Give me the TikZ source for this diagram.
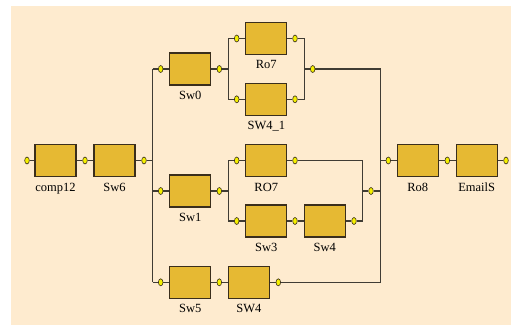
\documentclass[tikz,border=0pt]{standalone}
\usepackage{fontspec}
\setmainfont{Liberation Serif}
\usetikzlibrary{positioning,shapes.geometric}
\definecolor{paper}{RGB}{254,235,207}
\definecolor{gold}{RGB}{230,185,51}
\definecolor{edge}{RGB}{58,46,28}
\definecolor{wirecol}{RGB}{64,60,52}
\definecolor{pinfill}{RGB}{245,240,0}

\begin{document}
\begin{tikzpicture}[
    x=1pt,y=-1pt,
    node distance=5.5pt,
    blk/.style={
      draw=edge,
      fill=gold,
      line width=1.1pt,
      minimum width=41pt,
      minimum height=32pt,
      inner sep=0pt
    },
    portdot/.style={ellipse,draw=edge,fill=pinfill,line width=0.6pt,
      minimum width=4.6pt,minimum height=7pt,inner sep=0pt},
    lbl/.style={inner sep=0pt,font=\fontsize{12.5}{13}\selectfont},
    wire/.style={draw=wirecol,line width=1.2pt}
  ]
    \useasboundingbox (0,0) rectangle (511,325);
    \fill[paper] (11,6) rectangle (511,325);

    % blocks
    \node[blk] (c12) at (55.5,160.5) {};
    \node[blk] (s6) at (114.5,160.5) {};
    \node[blk] (s0) at (190.3,69) {};
    \node[blk] (r7) at (266.3,38.5) {};
    \node[blk] (w41) at (266.3,99.3) {};
    \node[blk] (s1) at (190.3,191) {};
    \node[blk] (ro7) at (266.3,160.5) {};
    \node[blk] (s3) at (266.3,221) {};
    \node[blk] (s4) at (324.7,221) {};
    \node[blk] (s5) at (190.3,282.3) {};
    \node[blk] (sw4) at (248.8,282.3) {};
    \node[blk] (r8) at (417.8,160.5) {};
    \node[blk] (em) at (476.7,160.5) {};

    \node[lbl,below=of c12] (c12t) {comp12};
    \node[lbl,below=of s6] (s6t) {Sw6};
    \node[lbl,below=of s0] (s0t) {Sw0};
    \node[lbl,below=of r7] (r7t) {Ro7};
    \node[lbl,below=of w41] (w41t) {SW4\_1};
    \node[lbl,below=of s1] (s1t) {Sw1};
    \node[lbl,below=of ro7] (ro7t) {RO7};
    \node[lbl,below=of s3] (s3t) {Sw3};
    \node[lbl,below=of s4] (s4t) {Sw4};
    \node[lbl,below=of s5] (s5t) {Sw5};
    \node[lbl,below=of sw4] (sw4t) {SW4};
    \node[lbl,below=of r8] (r8t) {Ro8};
    \node[lbl,below=of em] (emt) {EmailS};

    % ports
    \node[portdot] (p0) at (27,160.5) {};
    \node[portdot] (p1) at (85,160.5) {};
    \node[portdot] (p6) at (144,160.5) {};
    \node[portdot] (s0i) at (160.7,69) {};
    \node[portdot] (s0o) at (219.3,69) {};
    \node[portdot] (r7i) at (236.7,38.5) {};
    \node[portdot] (r7o) at (295,38.5) {};
    \node[portdot] (w4i) at (236.7,99.3) {};
    \node[portdot] (w4o) at (295,99.3) {};
    \node[portdot] (tout) at (312.7,69) {};
    \node[portdot] (s1i) at (160.7,191) {};
    \node[portdot] (s1o) at (219.3,191) {};
    \node[portdot] (ro7i) at (236.7,160.5) {};
    \node[portdot] (ro7o) at (295,160.5) {};
    \node[portdot] (s3i) at (236.7,221) {};
    \node[portdot] (s3o) at (295,221) {};
    \node[portdot] (s4o) at (354,221) {};
    \node[portdot] (mout) at (371,191) {};
    \node[portdot] (s5i) at (160.7,282.3) {};
    \node[portdot] (s5o) at (219.3,282.3) {};
    \node[portdot] (sw4o) at (278.3,282.3) {};
    \node[portdot] (r8i) at (388.3,160.5) {};
    \node[portdot] (r8o) at (447.3,160.5) {};
    \node[portdot] (emo) at (506,160.5) {};

    % bus corners
    \coordinate (lbTop) at (152.7,69);
    \coordinate (lbBot) at (152.7,282.3);
    \coordinate (ibA) at (228.3,99.3);
    \coordinate (obA) at (304.3,99.3);
    \coordinate (ibB) at (228.3,221);
    \coordinate (obB) at (362.7,221);
    \coordinate (mbBot) at (380.7,282.3);

    % wires
    \draw[wire] (p0) -- (c12) -- (p1) -- (s6) -- (p6) -- (p6 -| lbTop);
    \draw[wire] (lbTop) -- (lbBot);
    \draw[wire] (lbTop) -- (s0i) -- (s0) -- (s0o) -- (s0o -| ibA);
    \draw[wire] (r7i) -| (ibA) -- (w4i);
    \draw[wire] (r7i) -- (r7) -- (r7o) -| (obA) -- (w4o);
    \draw[wire] (w4i) -- (w41) -- (w4o);
    \draw[wire] (tout -| obA) -- (tout) -| (mbBot) -- (sw4o);
    \draw[wire] (s1i -| lbTop) -- (s1i) -- (s1) -- (s1o) -- (s1o -| ibB);
    \draw[wire] (ro7i) -| (ibB) -- (s3i) -- (s3) -- (s3o) -- (s4) -- (s4o) -- (obB) |- (ro7o);
    \draw[wire] (ro7i) -- (ro7) -- (ro7o);
    \draw[wire] (mout -| obB) -- (mout) -- (mout -| mbBot);
    \draw[wire] (r8i -| mbBot) -- (r8i) -- (r8) -- (r8o) -- (em) -- (emo);
    \draw[wire] (lbBot) -- (s5i) -- (s5) -- (s5o) -- (sw4) -- (sw4o);
  \end{tikzpicture}
\end{document}
